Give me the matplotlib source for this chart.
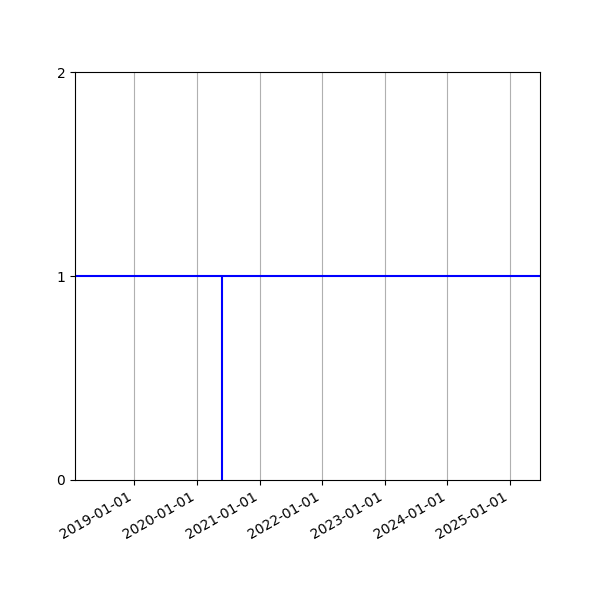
import matplotlib
matplotlib.use("Agg")
import matplotlib.pyplot as plt
import matplotlib.dates as mdates
import numpy as np

# Data
event_dates = np.array(["2020-05-26"], dtype="datetime64[D]")
event_values = [1]
hline_value = 1
x_limits = np.array(["2018-01-20", "2025-06-24"], dtype="datetime64[D]")
y_ticks = [0, 1, 2]

fig, ax = plt.subplots(figsize=(6, 6), dpi=100)
ax.axhline(hline_value, color="blue")
ax.vlines(event_dates, 0, event_values, color="blue")
ax.set_xlim(x_limits[0], x_limits[1])
ax.set_ylim(0, 2)
ax.set_yticks(y_ticks)
ax.xaxis.set_major_locator(mdates.YearLocator())
ax.xaxis.set_major_formatter(mdates.DateFormatter("%Y-%m-%d"))
ax.grid(True, axis="x")
fig.autofmt_xdate()
fig.savefig("out.png", dpi=100)
